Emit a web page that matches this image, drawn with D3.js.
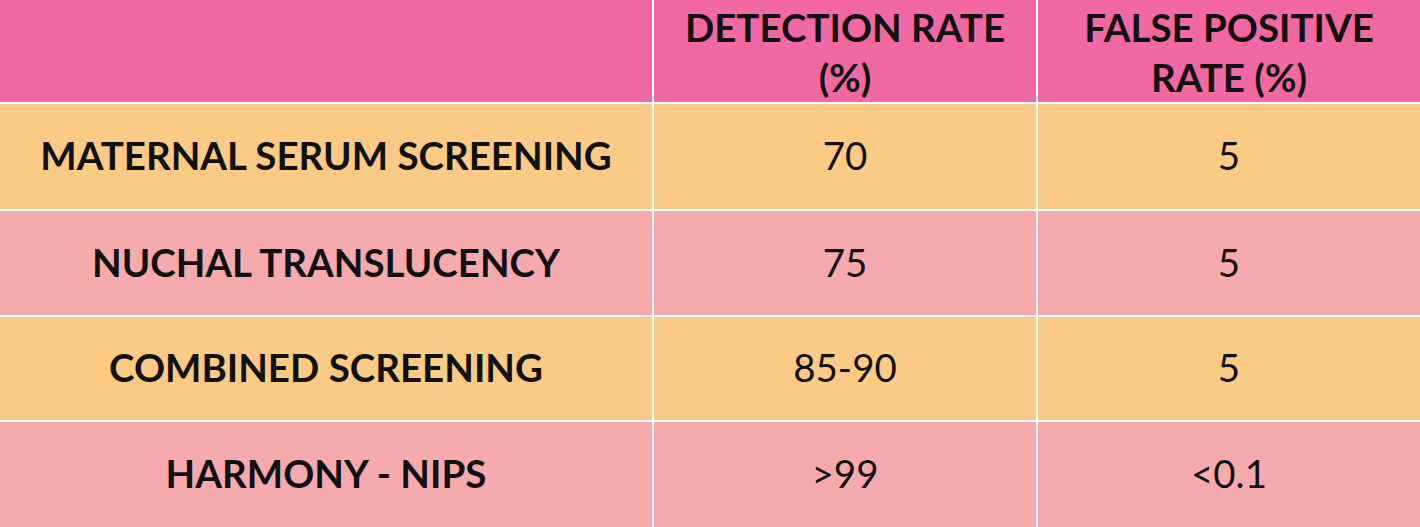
<!DOCTYPE html>
<html><head><meta charset="utf-8">
<script src="https://cdn.jsdelivr.net/npm/d3@7"></script>
<style>body{margin:0;background:#fff}</style>
</head><body><svg id="chart" width="1420" height="527"></svg>
<script>
// table data
const headers = [["", ""], ["DETECTION RATE", "(%)"], ["FALSE POSITIVE", "RATE (%)"]];
const tests = ["MATERNAL SERUM SCREENING", "NUCHAL TRANSLUCENCY", "COMBINED SCREENING", "HARMONY - NIPS"];
const detection = ["70", "75", "85-90", ">99"];
const falsePositive = ["5", "5", "5", "<0.1"];

const W = 1420, H = 527, FS = 38.5;
const svg = d3.select("#chart");

const colX = d3.scaleOrdinal().domain([0, 1, 2]).range([0, 654, 1038]);
const colW = [652, 382, 382];
const rowY = d3.scaleOrdinal().domain([0, 1, 2, 3, 4]).range([0, 104, 211, 317, 422]);
const rowH = [102, 105, 104, 103, 105];
const fill = r => r === 0 ? "#F268A3" : (r % 2 ? "#FBCB85" : "#F7AAAD");

const rows = tests.map((t, i) => [t, detection[i], falsePositive[i]]);

// header
headers.forEach((h, c) => {
  svg.append("rect").attr("x", colX(c)).attr("y", rowY(0))
    .attr("width", colW[c]).attr("height", rowH[0]).attr("fill", fill(0));
  const t = svg.append("text").attr("text-anchor", "middle")
    .attr("font-family", "Lato").attr("font-weight", "bold").attr("font-size", FS)
    .attr("fill", "#111");
  h.forEach((line, k) => t.append("tspan").attr("x", colX(c) + colW[c] / 2)
    .attr("y", 42 + k * 50).text(line));
});

// body rows
rows.forEach((row, i) => {
  const r = i + 1;
  row.forEach((v, c) => {
    svg.append("rect").attr("x", colX(c)).attr("y", rowY(r))
      .attr("width", colW[c]).attr("height", rowH[r]).attr("fill", fill(r));
    svg.append("text").attr("x", colX(c) + colW[c] / 2)
      .attr("y", rowY(r) + rowH[r] / 2).attr("dy", "0.36em")
      .attr("text-anchor", "middle").attr("font-family", "Lato")
      .attr("font-weight", c === 0 ? "bold" : "normal")
      .attr("font-size", FS).attr("fill", "#111").text(v);
  });
});
</script></body></html>
